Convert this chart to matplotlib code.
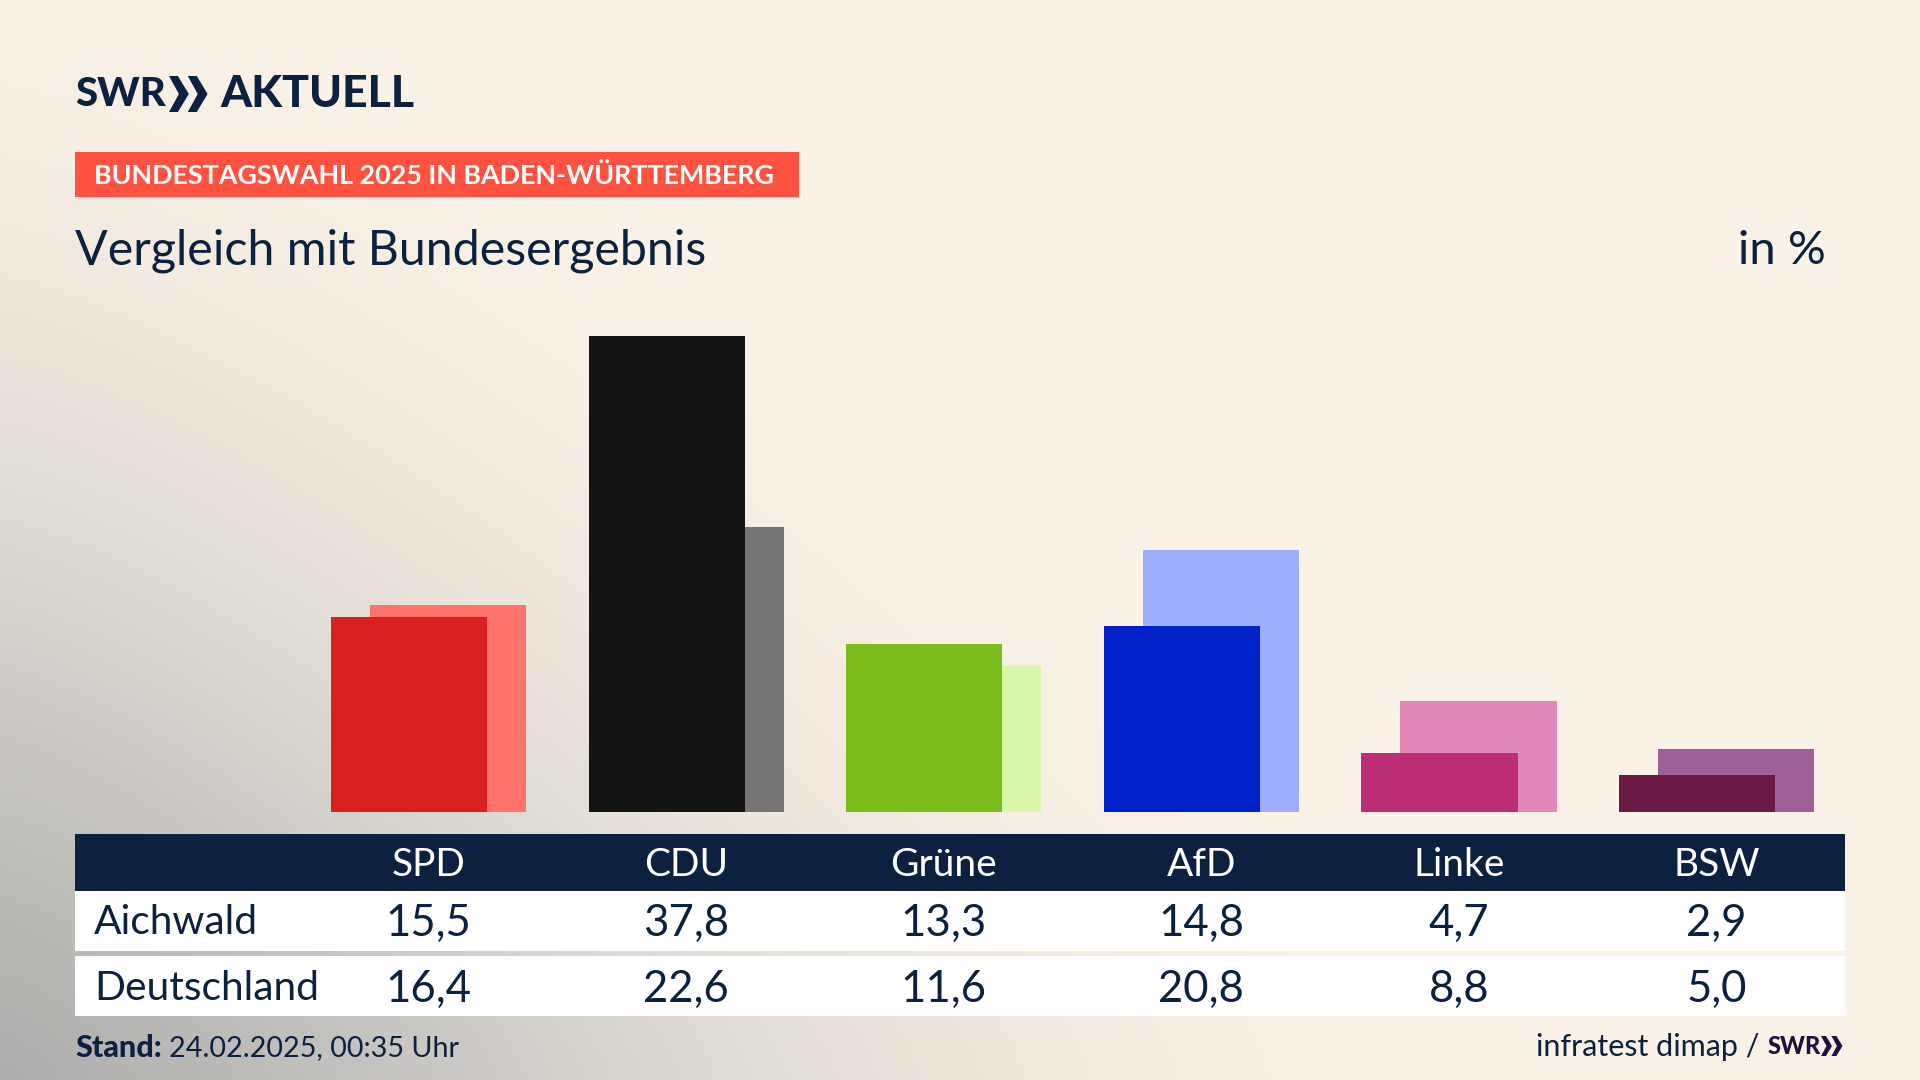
import matplotlib
matplotlib.use("Agg")
import matplotlib.pyplot as plt
import numpy as np
from matplotlib.colors import LinearSegmentedColormap
from matplotlib.patches import Polygon, Rectangle

parteien = ["SPD", "CDU", "Grüne", "AfD", "Linke", "BSW"]
aichwald = [15.5, 37.8, 13.3, 14.8, 4.7, 2.9]
deutschland = [16.4, 22.6, 11.6, 20.8, 8.8, 5.0]
farben_vorne = ["#D9201E", "#141414", "#7ABD1C", "#0021C8", "#BC2E74", "#6A1A42"]
farben_hinten = ["#FF736D", "#767574", "#D8F7AB", "#9EAEFF", "#E088B7", "#9D6098"]

navy = "#0C2040"
font = "Lato"
W, H = 1920, 1080

fig = plt.figure(figsize=(19.2, 10.8), dpi=100)

# background and everything that is not the bars, in pixel coordinates
bg = fig.add_axes([0, 0, 1, 1])
bg.axis("off")
yy, xx = np.mgrid[0:H:270j, 0:W:480j]
p = 1.3
t = np.clip(((xx / 1400) ** p + ((H - yy) / 1100) ** p) ** (1 / p), 0, 1)
cmap = LinearSegmentedColormap.from_list(
    "swr", [(0, "#ADADAB"), (0.25, "#C4C2BF"), (0.5, "#DEDAD3"), (0.75, "#F2EAE0"), (1, "#FAF2E6")])
bg.imshow(t, cmap=cmap, vmin=0, vmax=1, extent=[0, W, H, 0], aspect="auto", zorder=0)
bg.set_xlim(0, W)
bg.set_ylim(H, 0)


def chevrons(x, y, h, color):
    w = h * 0.55
    for dx in (0, w * 0.95):
        pts = [(x + dx, y), (x + dx + w * 0.45, y), (x + dx + w, y + h / 2),
               (x + dx + w * 0.45, y + h), (x + dx, y + h), (x + dx + w * 0.5, y + h / 2)]
        bg.add_patch(Polygon(pts, closed=True, fc=color, ec="none", zorder=3))


# logo
bg.text(75, 94, "SWR", family=font, weight="black", fontsize=29, color=navy, va="center")
chevrons(169, 76, 36, navy)
bg.text(220, 94, "AKTUELL", family=font, weight="black", fontsize=32, color=navy, va="center")

# banner and titles
bg.add_patch(Rectangle((75, 152), 724, 45, fc="#FF5240", ec="none", zorder=2))
bg.text(94, 176, "BUNDESTAGSWAHL 2025 IN BADEN-WÜRTTEMBERG", family=font, weight="bold",
        fontsize=19.4, color="white", va="center", zorder=3)
bg.text(75, 251, "Vergleich mit Bundesergebnis", family=font, fontsize=34.8, color=navy, va="center")
bg.text(1826, 251, "in %", family=font, fontsize=34, color=navy, va="center", ha="right")

# bars
base_px, top_px = 812, 300
left_px, right_px = 300, 1846
ax = fig.add_axes([left_px / W, 1 - base_px / H, (right_px - left_px) / W, (base_px - top_px) / H])
ax.patch.set_alpha(0)
ax.axis("off")
step = 257.6
x = np.arange(len(parteien))
ax.set_xlim((left_px - 428.6) / step, (right_px - 428.6) / step)
ax.set_ylim(0, (base_px - top_px) / 12.6)
ax.bar(x + 0.0757, deutschland, width=0.606, color=farben_hinten, zorder=1)
ax.bar(x - 0.0757, aichwald, width=0.606, color=farben_vorne, zorder=2)

# table
bg.add_patch(Rectangle((75, 834), 1770, 57, fc=navy, ec="none", zorder=2))
bg.add_patch(Rectangle((75, 891), 1770, 60, fc="white", ec="none", zorder=2))
bg.add_patch(Rectangle((75, 956), 1770, 60, fc="white", ec="none", zorder=2))
spalten = [428.6 + step * i for i in x]
for cx, partei, a, d in zip(spalten, parteien, aichwald, deutschland):
    bg.text(cx, 865, partei, family=font, fontsize=28, color="white", ha="center", va="center", zorder=3)
    bg.text(cx, 923, f"{a:.1f}".replace(".", ","), family=font, fontsize=31.5, color=navy,
            ha="center", va="center", zorder=3)
    bg.text(cx, 989, f"{d:.1f}".replace(".", ","), family=font, fontsize=31.5, color=navy,
            ha="center", va="center", zorder=3)
bg.text(94, 923, "Aichwald", family=font, fontsize=29.3, color=navy, va="center", zorder=3)
bg.text(94, 989, "Deutschland", family=font, fontsize=29.3, color=navy, va="center", zorder=3)

# footer
bg.text(75, 1048, "Stand:", family=font, weight="black", fontsize=22, color=navy, va="center")
bg.text(169, 1048, "24.02.2025, 00:35 Uhr", family=font, fontsize=20.7, color=navy, va="center")
bg.text(1768, 1047, "SWR", family=font, weight="black", fontsize=17, color="#230F3F", va="center", ha="left")
chevrons(1821, 1036, 20, "#230F3F")
bg.text(1760, 1047, "infratest dimap /", family=font, fontsize=22, color=navy, va="center", ha="right")

fig.savefig("out.png", dpi=100)
